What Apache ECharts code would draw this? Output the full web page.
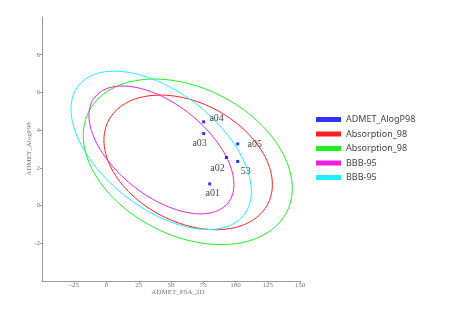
<!DOCTYPE html>
<html>
<head>
<meta charset="utf-8">
<script src="https://cdn.jsdelivr.net/npm/echarts@6/dist/echarts.min.js"></script>
<style>
html, body { margin: 0; padding: 0; background: #fff; }
#chart { width: 465px; height: 310px; }
</style>
</head>
<body>
<div id="chart"></div>
<script>
// compounds (ADMET_PSA_2D, ADMET_AlogP98)
const pointNames = ['a01', 'a02', 'a03', 'a04', 'a05', '53']
const psaValues = [80, 93, 75.3, 75.3, 101.7, 101.7]
const alogpValues = [1.15, 2.55, 3.82, 4.44, 3.27, 2.34]
const labelOffsets = [[3, 9], [-9, 11], [-4, 10], [13, -3], [17, 0], [8, 10]]

// confidence ellipses: centre, half extents, x/y coupling (cos of phase)
const ellipseNames = ['Absorption_98', 'Absorption_98', 'BBB-95', 'BBB-95']
const ellipseColors = ['#ff2020', '#20ee20', '#ee20dd', '#20eeff']
const centerX = [63.3, 63.0, 42.6, 42.4]
const centerY = [2.29, 2.32, 2.95, 2.93]
const halfX = [65.3, 81.0, 56.2, 69.9]
const halfY = [3.57, 4.39, 3.39, 4.20]
const coupling = [-0.33, -0.32, -0.54, -0.52]

const xTicks = { min: -50, max: 150, interval: 25 }
const yTicks = { min: -4, max: 10, interval: 2 }

function ellipsePoints(i) {
  const phi = Math.acos(coupling[i])
  const pts = []
  for (let k = 0; k <= 120; k++) {
    const t = (k / 120) * Math.PI * 2
    pts.push([centerX[i] + halfX[i] * Math.cos(t), centerY[i] + halfY[i] * Math.cos(t + phi)])
  }
  return pts
}

const chart = echarts.init(document.getElementById('chart'))

const axisFont = { fontFamily: 'Liberation Serif', fontSize: 7, color: '#777' }

const series = [
  {
    name: 'ADMET_AlogP98#0',
    type: 'scatter',
    symbol: 'rect',
    symbolSize: 3,
    z: 5,
    itemStyle: { color: '#0000ff' },
    label: {
      show: true,
      position: 'inside',
      formatter: p => p.name,
      fontFamily: 'Liberation Serif',
      fontSize: 10,
      color: '#111'
    },
    data: pointNames.map((n, i) => ({
      name: n,
      value: [psaValues[i], alogpValues[i]],
      label: { offset: labelOffsets[i] }
    }))
  }
]
ellipseNames.forEach((n, i) => {
  series.push({
    name: n + '#' + (i + 1),
    type: 'line',
    showSymbol: false,
    smooth: false,
    lineStyle: { width: 1, color: ellipseColors[i] },
    itemStyle: { color: ellipseColors[i] },
    data: ellipsePoints(i)
  })
})

chart.setOption({
  animation: false,
  grid: { left: 42, right: 165, top: 17, bottom: 29 },
  legend: {
    orient: 'vertical',
    left: 311,
    top: 110,
    icon: 'rect',
    itemWidth: 25,
    itemHeight: 5,
    itemGap: 5.5,
    textStyle: { fontFamily: 'Noto Sans', fontSize: 9, color: '#444' },
    formatter: name => name.split('#')[0]
  },
  xAxis: {
    type: 'value',
    min: xTicks.min,
    max: xTicks.max,
    interval: xTicks.interval,
    name: 'ADMET_PSA_2D',
    nameLocation: 'middle',
    nameGap: 8,
    nameMoveOverlap: false,
    nameTextStyle: Object.assign({ padding: [0, 0, 0, 14] }, axisFont),
    splitLine: { show: false },
    axisLine: { onZero: false, lineStyle: { color: '#999' } },
    axisTick: { length: 2, lineStyle: { color: '#999' } },
    axisLabel: Object.assign({ margin: 1, showMinLabel: false }, axisFont)
  },
  yAxis: {
    type: 'value',
    min: yTicks.min,
    max: yTicks.max,
    interval: yTicks.interval,
    name: 'ADMET_AlogP98',
    nameLocation: 'middle',
    nameGap: 9,
    nameMoveOverlap: false,
    nameTextStyle: axisFont,
    splitLine: { show: false },
    axisLine: { show: true, onZero: false, lineStyle: { color: '#999' } },
    axisTick: { show: true, length: 2, lineStyle: { color: '#999' } },
    axisLabel: Object.assign({ margin: 2, showMinLabel: false, showMaxLabel: false }, axisFont)
  },
  series: series
})
</script>
</body>
</html>
